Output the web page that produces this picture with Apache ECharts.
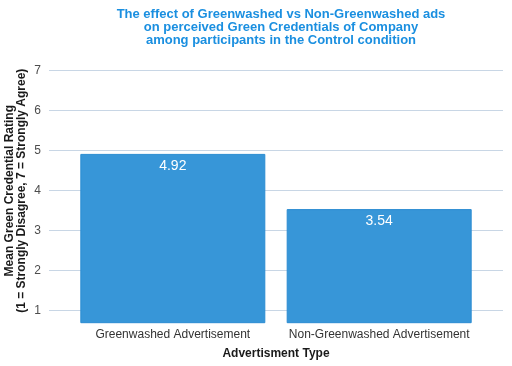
<!DOCTYPE html>
<html><head><meta charset="utf-8">
<script src="https://cdn.jsdelivr.net/npm/echarts@6/dist/echarts.min.js"></script>
<style>html,body{margin:0;padding:0;background:#fff}#c{width:512px;height:366px}</style>
</head><body><div id="c"></div>
<script>
const categories = ['Greenwashed Advertisement', 'Non-Greenwashed Advertisement'];
const meanRatings = [4.92, 3.54];
const yTicks = [1, 2, 3, 4, 5, 6, 7];
const titleText = 'The effect of Greenwashed vs Non-Greenwashed ads\non perceived Green Credentials of Company\namong participants in the Control condition';
const yTitle = 'Mean Green Credential Rating\n(1 = Strongly Disagree, 7 = Strongly Agree)';
const xTitle = 'Advertisment Type';

const chart = echarts.init(document.getElementById('c'), null, {renderer: 'canvas'});
const FONT = '"Liberation Sans", Arial, sans-serif';
chart.setOption({
  animation: false,
  backgroundColor: '#ffffff',
  textStyle: {fontFamily: FONT},
  title: {
    text: titleText,
    left: 276, top: 2.5, textAlign: 'center',
    textStyle: {color: '#1a8fe0', fontSize: 13, fontWeight: 'bold', lineHeight: 13, fontFamily: FONT}
  },
  grid: {left: 49, right: 9, top: 58.7, bottom: 43.3, outerBoundsMode: 'none', containLabel: false},
  xAxis: {
    type: 'value', min: -0.6, max: 1.6,
    name: xTitle, nameLocation: 'middle', nameGap: 25, nameMoveOverlap: false,
    nameTextStyle: {color: '#1a1a1a', fontSize: 12, fontWeight: 'bold', fontFamily: FONT},
    axisLine: {show: false}, axisTick: {show: false}, splitLine: {show: false},
    axisLabel: {
      customValues: categories.map((c, i) => i),
      formatter: v => categories[Math.round(v)],
      color: '#333333', fontSize: 12, margin: 6, fontFamily: FONT
    }
  },
  yAxis: {
    type: 'value', min: 0.7, max: 7.3,
    name: yTitle, nameLocation: 'middle', nameGap: 21, nameRotate: 90, nameMoveOverlap: false,
    nameTextStyle: {color: '#1a1a1a', fontSize: 12, fontWeight: 'bold', lineHeight: 12, fontFamily: FONT},
    axisLine: {show: false},
    axisTick: {show: false, customValues: yTicks},
    axisLabel: {customValues: yTicks, color: '#4d4d4d', fontSize: 12, margin: 8, fontFamily: FONT},
    splitLine: {show: true, lineStyle: {color: '#c8d6e5', width: 1}}
  },
  series: [{
    type: 'bar',
    data: meanRatings.map((v, i) => [i, v]),
    barWidth: 185,
    itemStyle: {color: '#3796d8', borderColor: '#2b8cd2', borderWidth: 1},
    label: {
      show: true, position: 'insideTop', distance: 5,
      color: '#ffffff', fontSize: 14, fontFamily: FONT,
      formatter: p => p.value[1].toFixed(2)
    }
  }]
});
</script></body></html>
